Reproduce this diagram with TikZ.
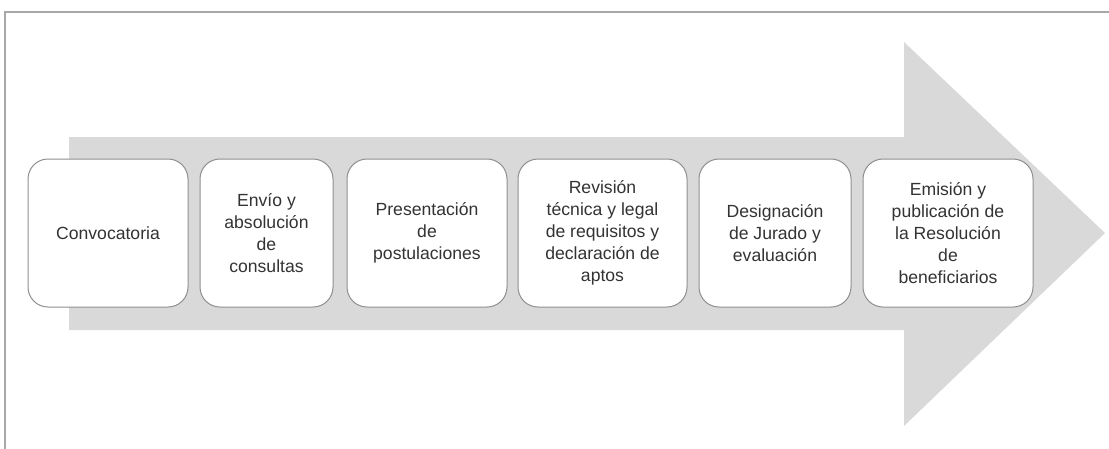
\documentclass[tikz,border=0pt]{standalone}
\usepackage{fontspec}
\setmainfont{Liberation Sans}
\definecolor{arrowgray}{HTML}{D9D9D9}
\definecolor{boxline}{HTML}{8F8F8F}
\definecolor{txt}{HTML}{333333}
\definecolor{frame}{HTML}{A8A8A8}
\begin{document}
\begin{tikzpicture}[x=1pt,y=-1pt,
  stepbox/.style={draw=boxline, line width=1pt, fill=white, rounded corners=20pt,
    minimum height=148pt, inner sep=0pt, align=center, text=txt,
    font=\fontsize{17.6}{22}\selectfont}]
\useasboundingbox (0,0) rectangle (1109,448);
\draw[frame, line width=1.2pt] (5,460) -- (5,12) -- (1120,12);
\fill[arrowgray] (69,137) -- (904,137) -- (904,42) -- (1105,233) -- (904,426) -- (904,330) -- (69,330) -- cycle;
\node[stepbox, minimum width=160pt] (b1) at (108,233) {Convocatoria};
\node[stepbox, minimum width=133pt] (b2) at (266.5,233) {Envío y\\absolución\\de\\consultas};
\node[stepbox, minimum width=160pt] (b3) at (427,233) {Presentación\\de\\postulaciones};
\node[stepbox, minimum width=169pt] (b4) at (602.5,233) {Revisión\\técnica y legal\\de requisitos y\\declaración de\\aptos};
\node[stepbox, minimum width=152pt] (b5) at (775,233) {Designación\\de Jurado y\\evaluación};
\node[stepbox, minimum width=170pt] (b6) at (948,233) {Emisión y\\publicación de\\la Resolución\\de\\beneficiarios};
\end{tikzpicture}
\end{document}
